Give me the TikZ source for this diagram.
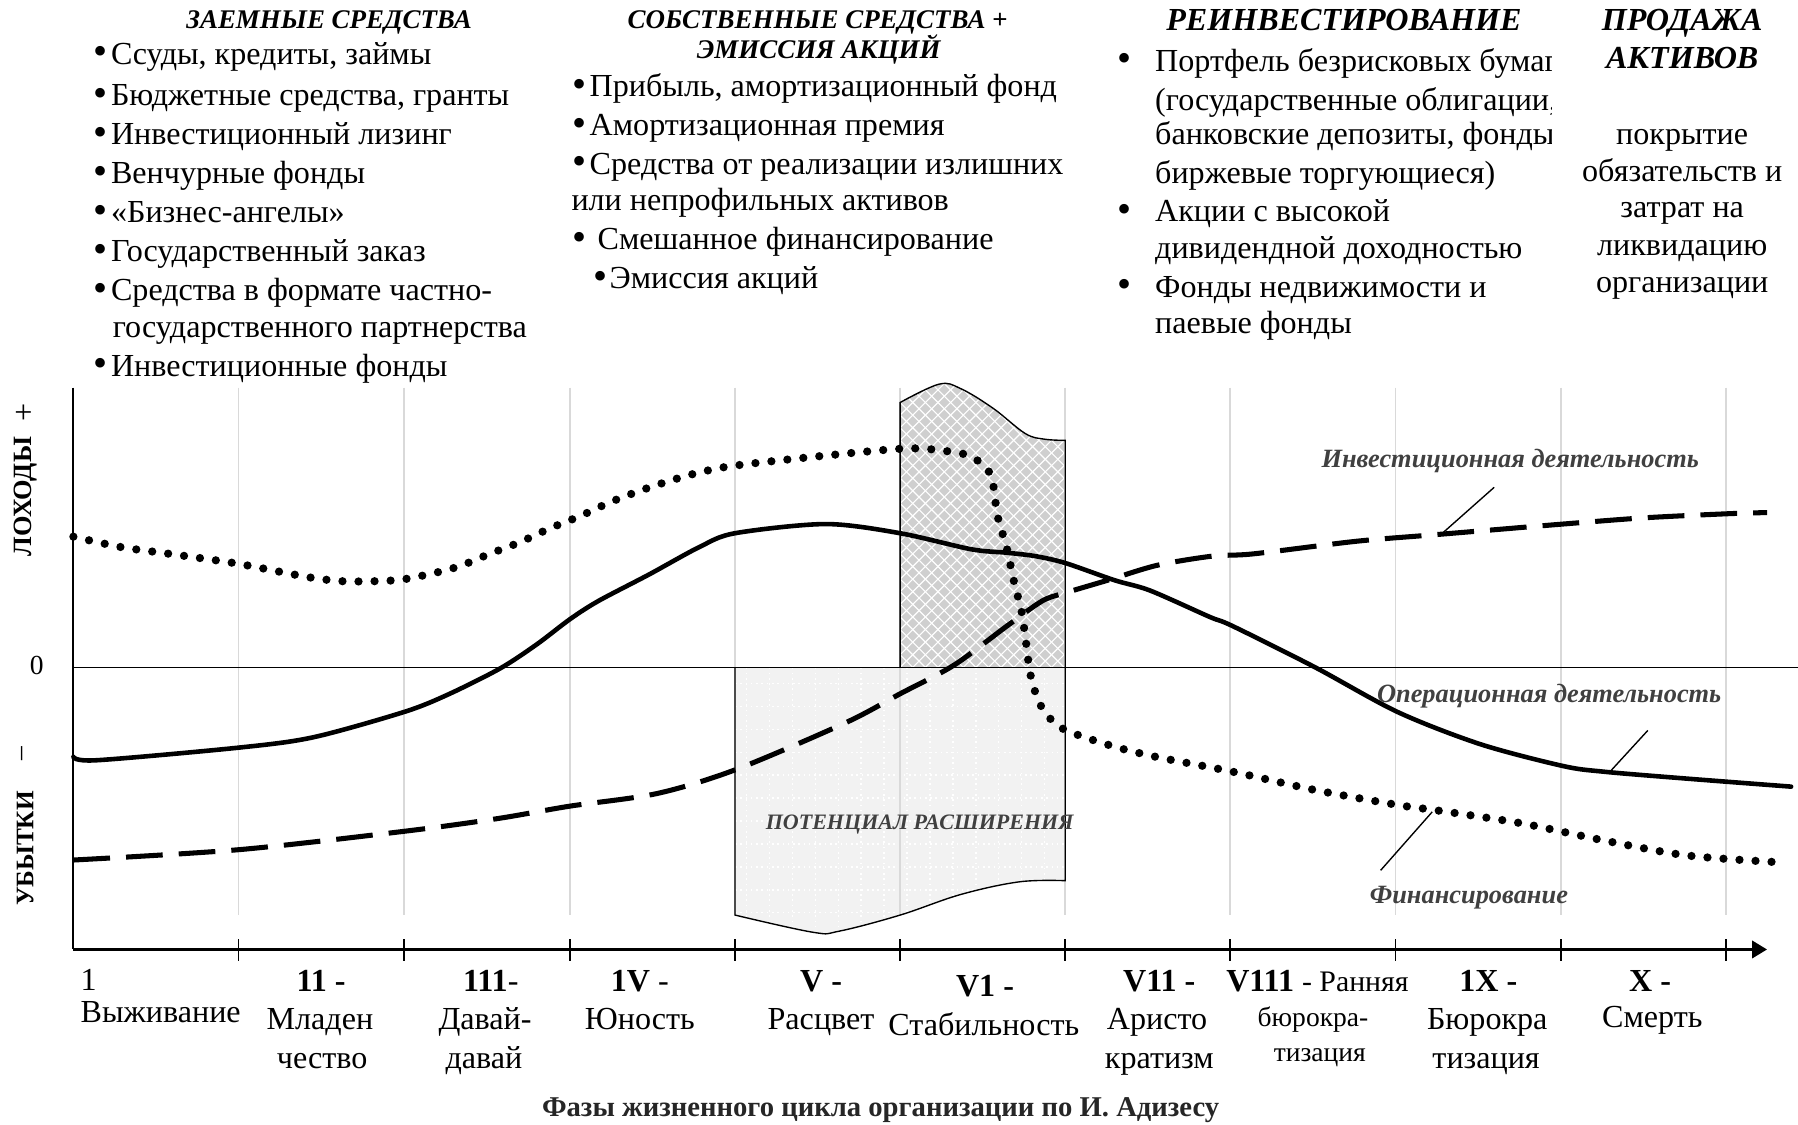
\documentclass[tikz,border=0pt]{standalone}
\usepackage{fontspec}
\usepackage{graphicx}
\setmainfont{Liberation Serif}
\usetikzlibrary{arrows.meta}
\definecolor{gridc}{HTML}{D9D9D9}
\definecolor{hatchbg}{HTML}{CFCFCF}
\definecolor{lightbg}{HTML}{F2F2F2}
\definecolor{labgray}{HTML}{404040}
\newcommand{\bigbul}{\raisebox{-0.3pt}{\scalebox{1.25}{•}}}
\tikzset{
  tbase/.style={inner sep=0pt, text height=10pt, text depth=3pt},
  body/.style={tbase, font=\fontsize{14}{16}\selectfont},
  bodysmall/.style={inner sep=0pt, text height=8.5pt, text depth=2.5pt, font=\fontsize{12}{14}\selectfont},
  hdr/.style={inner sep=0pt, text height=8.5pt, text depth=2.5pt, font=\fontsize{11.75}{14}\bfseries\itshape\selectfont},
  hdrbig/.style={tbase, font=\fontsize{14}{16}\bfseries\itshape\selectfont},
  numlab/.style={tbase, font=\fontsize{14}{16}\selectfont},
  axlab/.style={inner sep=0pt, rotate=90, font=\fontsize{11.5}{13}\bfseries\selectfont},
  curvelab/.style={inner sep=0pt, font=\fontsize{11.5}{13}\bfseries\itshape\selectfont, text=labgray},
  potlab/.style={inner sep=0pt, font=\fontsize{9.6}{12}\bfseries\itshape\selectfont, text=labgray},
  titlelab/.style={inner sep=0pt, font=\fontsize{12.5}{14}\bfseries\selectfont, text=black!85},
  gridline/.style={gridc, line width=0.8pt},
  leader/.style={black, line width=0.6pt},
  opcurve/.style={line width=2pt, line join=round, line cap=round},
  invcurve/.style={line width=2.2pt, dash pattern=on 16pt off 7pt},
  fincurve/.style={line width=3.6pt, line cap=round, dash pattern=on 0pt off 7pt},
}
\begin{document}
\begin{tikzpicture}[x=0.5pt,y=-0.5pt]
\useasboundingbox (0,0) rectangle (1568,981);

% ---------- shaded regions ----------
\fill[lightbg] (641,582) -- plot[smooth,tension=0.6] coordinates {(641,798) (709,813) (732,812) (785,798) (838,780) (889,769) (929,768)} -- (929,582) -- cycle;
\begin{scope}
  \clip (641,582) -- plot[smooth,tension=0.6] coordinates {(641,798) (709,813) (732,812) (785,798) (838,780) (889,769) (929,768)} -- (929,582) -- cycle;
  \foreach \x in {651,671,...,929} \draw[white, line width=0.6pt, dash pattern=on 0.7pt off 1.6pt] (\x,582) -- (\x,820);
  \foreach \y in {596,616,...,816} \draw[white, line width=0.6pt, dash pattern=on 0.7pt off 1.6pt] (641,\y) -- (929,\y);
\end{scope}

\fill[hatchbg] (785,582) -- plot[smooth,tension=0.6] coordinates {(785,351) (819,335) (838,339) (866,356) (894,378) (911,383) (929,384)} -- (929,582) -- cycle;
\begin{scope}
  \clip (785,582) -- plot[smooth,tension=0.6] coordinates {(785,351) (819,335) (838,339) (866,356) (894,378) (911,383) (929,384)} -- (929,582) -- cycle;
  \foreach \k in {-25,...,40} {
    \draw[white, line width=0.5pt] (785+\k*11,582) -- ++(300,-300);
    \draw[white, line width=0.5pt] (785+\k*11,582) -- ++(-300,-300);
  }
\end{scope}

% ---------- grid ----------
\foreach \x in {208,352,497,641,785,929,1073,1217,1361,1505}
  \draw[gridline] (\x,338) -- (\x,798);

% outlines of regions
\draw[line width=0.6pt] (641,582) -- plot[smooth,tension=0.6] coordinates {(641,798) (709,813) (732,812) (785,798) (838,780) (889,769) (929,768)} -- (929,582);
\draw[line width=0.6pt] (785,582) -- plot[smooth,tension=0.6] coordinates {(785,351) (819,335) (838,339) (866,356) (894,378) (911,383) (929,384)} -- (929,582);

% zero line
\coordinate (zeroL) at (64,582);
\coordinate (zeroR) at (1568,582);
\draw[line width=0.7pt] (zeroL) -- (zeroR);

% ---------- curves ----------
\draw[opcurve] plot[smooth,tension=0.5] coordinates {(64,660) (84,663) (208,652) (273,643) (352,621) (390,606) (436,583) (468,562) (497,540) (522,524) (566,501) (610,477) (641,465) (720,457) (785,465) (847,479) (878,482) (903,485) (929,491) (972,506) (1003,515) (1055,538) (1075,546) (1147,582) (1219,621) (1291,649) (1363,668) (1399,673) (1471,679) (1562,686)};

\draw[invcurve] plot[smooth,tension=0.5] coordinates {(64,750) (208,741) (352,725) (433,714) (497,703) (573,692) (642,671) (738,630) (785,605) (832,580) (878,546) (909,524) (929,517) (966,506) (1009,493) (1057,485) (1093,483) (1183,472) (1255,466) (1363,457) (1435,451.5) (1507,448) (1541,447)};

\draw[fincurve] plot[smooth,tension=0.5] coordinates {(64,468) (105,477) (148,483) (204,491) (246,499) (273,504) (302,507) (345,506) (373,501) (400,494) (427,483) (453,473) (479,461) (506,450) (532,438) (558,428) (585,419) (610,412) (641,406) (723,397) (794,391) (836,395) (850,400) (861,409) (866,422) (870,450) (878,478) (884,506) (891,534) (895,562) (899,590) (908,616) (926,635) (968,650) (1008,660) (1075,673) (1147,689) (1219,702) (1255,707) (1327,718) (1399,733) (1471,746) (1552,752)};

% ---------- axes ----------
\coordinate (ytop) at (64,338);
\coordinate (origin) at (64,828);
\coordinate (xend) at (1541,828);
\draw[line width=0.8pt] (ytop) -- (origin);
\draw[line width=1.3pt, -{Triangle[length=6.5pt,width=7.5pt]}] (origin) -- (xend);
\foreach \x in {208,352,497,641,785,929,1073,1217,1361,1505}
  \draw[line width=0.8pt] (\x,819) -- (\x,838);

% ---------- curve labels ----------
\node[curvelab] (linv) at (1317,402) {Инвестиционная деятельность};
\node[curvelab] (lop) at (1351,607) {Операционная деятельность};
\node[curvelab] (lfin) at (1281,783) {Финансирование};
\node[potlab] (lpot) at (802,719) {ПОТЕНЦИАЛ РАСШИРЕНИЯ};
\coordinate (invA) at (1303,425); \coordinate (invB) at (1259,464);
\coordinate (opA) at (1437,637);  \coordinate (opB) at (1404,673);
\coordinate (finA) at (1249,708); \coordinate (finB) at (1204,759);
\draw[leader] (invA) -- (invB);
\draw[leader] (opA) -- (opB);
\draw[leader] (finA) -- (finB);

% ---------- y-axis labels ----------
\node[axlab] (yplus) at (22,360) {\fontsize{14}{16}\mdseries +};
\node[axlab] (ydoh) at (22,433) {ЛОХОДЫ};
\node[inner sep=0pt, font=\fontsize{12}{14}\selectfont] (yzero) at (32,580) {0};
\node[axlab] (yminus) at (22,657) {\fontsize{12}{14}\mdseries –};
\node[axlab, font=\fontsize{11}{13}\bfseries\selectfont] (yub) at (22,740) {УБЫТКИ};

% ---------- headers ----------
\node[hdr] (h1) at (287,19) {ЗАЕМНЫЕ СРЕДСТВА};
\node[hdr] (h2a) at (713,19) {СОБСТВЕННЫЕ СРЕДСТВА +};
\node[hdr] (h2b) at (714,45) {ЭМИССИЯ АКЦИЙ};
\node[hdrbig] (h3) at (1172,20) {РЕИНВЕСТИРОВАНИЕ};
\node[hdrbig] (h4a) at (1467,20) {ПРОДАЖА};
\node[hdrbig] (h4b) at (1467,53) {АКТИВОВ};

% ---------- left list ----------
\node[body, anchor=west] (l1) at (81,49) {\bigbul\hspace{1.6pt}Ссуды, кредиты, займы};
\node[body, anchor=west] (l2) at (81,85) {\bigbul\hspace{1.6pt}Бюджетные средства, гранты};
\node[body, anchor=west] (l3) at (81,119) {\bigbul\hspace{1.6pt}Инвестиционный лизинг};
\node[body, anchor=west] (l4) at (81,153) {\bigbul\hspace{1.6pt}Венчурные фонды};
\node[body, anchor=west] (l5) at (81,187) {\bigbul\hspace{1.6pt}«Бизнес-ангелы»};
\node[body, anchor=west] (l6) at (81,221) {\bigbul\hspace{1.6pt}Государственный заказ};
\node[body, anchor=west] (l7) at (81,255) {\bigbul\hspace{1.6pt}Средства в формате частно-};
\node[body, anchor=west] (l7b) at (98,287) {государственного партнерства};
\node[body, anchor=west] (l8) at (81,321) {\bigbul\hspace{1.6pt}Инвестиционные фонды};

% ---------- middle list ----------
\node[body, anchor=west] (m1) at (499,77) {\bigbul\hspace{1.3pt}Прибыль, амортизационный фонд};
\node[body, anchor=west] (m2) at (499,111) {\bigbul\hspace{1.3pt}Амортизационная премия};
\node[body, anchor=west] (m3) at (499,145) {\bigbul\hspace{1.3pt}Средства от реализации излишних};
\node[body, anchor=west] (m3b) at (498,177) {или непрофильных активов};
\node[body, anchor=west] (m4) at (499,211) {\bigbul\hspace{4.8pt}Смешанное финансирование};
\node[body, anchor=west] (m5) at (517,245) {\bigbul\hspace{1pt}Эмиссия акций};

% ---------- right list (clipped) ----------
\begin{scope}
  \clip (960,30) rectangle (1353,310);
  \node[body] (rb1) at (981,55) {\bigbul};
  \node[body, anchor=west] (r1) at (1007,55) {Портфель безрисковых бумаг};
  \node[body, anchor=west] (r1b) at (1007,89) {(государственные облигации,};
  \node[body, anchor=west] (r1c) at (1007,119) {банковские депозиты, фонды};
  \node[body, anchor=west] (r1d) at (1007,153) {биржевые торгующиеся)};
  \node[body] (rb2) at (981,186) {\bigbul};
  \node[body, anchor=west] (r2) at (1007,186) {Акции с высокой};
  \node[body, anchor=west] (r2b) at (1007,218) {дивидендной доходностью};
  \node[body] (rb3) at (981,252) {\bigbul};
  \node[body, anchor=west] (r3) at (1007,252) {Фонды недвижимости и};
  \node[body, anchor=west] (r3b) at (1007,284) {паевые фонды};
\end{scope}

% ---------- far right ----------
\node[body] (p1) at (1467,119) {покрытие};
\node[body] (p2) at (1467,151) {обязательств и};
\node[body] (p3) at (1467,183) {затрат на};
\node[body] (p4) at (1467,216) {ликвидацию};
\node[body] (p5) at (1467,248) {организации};

% ---------- phase labels ----------
\node[numlab, anchor=west] (n1) at (70,857) {1};
\node[numlab, anchor=west] (t1) at (70,885) {Выживание};

\node[numlab] (n2) at (280,858) {\bfseries 11 -};
\node[numlab] (t2a) at (279,891) {Младен};
\node[numlab] (t2b) at (281,925) {чество};

\node[numlab] (n3) at (428,858) {\textbf{111}-};
\node[numlab] (t3a) at (423,891) {Давай-};
\node[numlab] (t3b) at (422,925) {давай};

\node[numlab] (n4) at (558,858) {\textbf{1V} -};
\node[numlab] (t4a) at (558,891) {Юность};

\node[numlab] (n5) at (716,858) {\bfseries V -};
\node[numlab] (t5a) at (716,891) {Расцвет};

\node[numlab] (n6) at (859,862) {\bfseries V1 -};
\node[numlab] (t6a) at (858,896) {Стабильность};

\node[numlab] (n7) at (1011,858) {\bfseries V11 -};
\node[numlab] (t7a) at (1009,891) {Аристо};
\node[numlab] (t7b) at (1011,925) {кратизм};

\begin{scope}
  \clip (1050,835) rectangle (1229,880);
  \node[numlab, anchor=west] (n8) at (1069,858) {\textbf{V111} {\fontsize{13}{14}\selectfont - Ранняя}};
\end{scope}
\node[bodysmall] (t8a) at (1145,889) {бюрокра-};
\node[bodysmall] (t8b) at (1151,920) {тизация};

\node[numlab] (n9) at (1298,858) {\bfseries 1X -};
\node[numlab] (t9a) at (1297,891) {Бюрокра};
\node[numlab] (t9b) at (1296,925) {тизация};

\node[numlab] (n10) at (1439,858) {\bfseries X -};
\node[numlab] (t10a) at (1441,889) {Смерть};

\node[titlelab] (title) at (768,968) {Фазы жизненного цикла организации по И. Адизесу};
\end{tikzpicture}
\end{document}
